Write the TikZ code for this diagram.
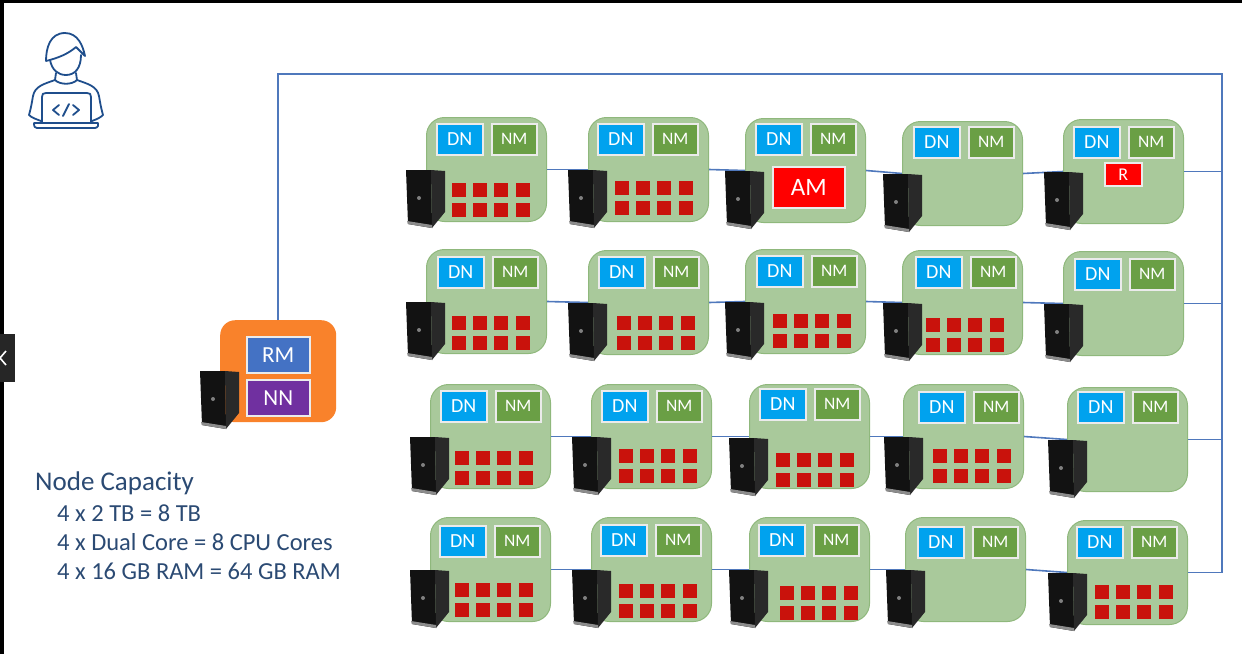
\documentclass[tikz,border=0pt]{standalone}
\usepackage{fontspec}
\setmainfont{Carlito}
\usetikzlibrary{arrows.meta,positioning,calc}
\definecolor{CardGreen}{HTML}{A9C99B}
\definecolor{CardEdge}{HTML}{8FB87C}
\definecolor{LinkBlue}{HTML}{4F78BC}
\definecolor{DnBlue}{HTML}{00A2EE}
\definecolor{NmGreen}{HTML}{6A9F45}
\definecolor{SlotRed}{HTML}{C9120C}
\definecolor{MasterOrange}{HTML}{F9822B}
\definecolor{RmBlue}{HTML}{4472C4}
\definecolor{NnPurple}{HTML}{7030A0}
\definecolor{IconNavy}{HTML}{1F4E8C}
\definecolor{TextNavy}{HTML}{2B4A73}
\tikzset{
card/.style={draw=CardEdge,fill=CardGreen,rounded corners=18pt,line width=1pt,anchor=north west,inner sep=0pt,minimum width=120pt,minimum height=104pt},
tag/.style={draw=white!92!black,line width=1.6pt,anchor=north west,inner sep=0pt,text=white,font=\fontsize{20}{20}\selectfont},
dn/.style={tag,fill=DnBlue,minimum width=46pt,minimum height=31pt},
nm/.style={tag,fill=NmGreen,minimum width=45pt,minimum height=31pt,font=\fontsize{17.5}{18}\selectfont},
slot/.style={fill=SlotRed,anchor=north west,inner sep=0pt,minimum size=13.5pt},
link/.style={LinkBlue,line width=1.6pt},
icon/.style={IconNavy,line width=1.8pt,line cap=round,line join=round},
info/.style={TextNavy,anchor=west,inner sep=0pt,font=\fontsize{24.5}{26}\selectfont},
tower/.pic={
\fill[black!93] (0,0)--(25,0)--(26,58)--(2,54)--cycle;
\fill[black!84] (25,0)--(39,1)--(39,42)--(26,58)--cycle;
\fill[black!45] (1,51)--(26,55)--(26,58)--(2,54)--cycle;
\fill[black!50] (13,28) circle (2);}}
\begin{document}
\begin{tikzpicture}[x=1pt,y=-1pt]
\useasboundingbox (0,0) rectangle (1242,654);
\fill[black] (0,0) rectangle (1242,3);
\fill[black] (0,0) rectangle (4,654);
\fill[black!85] (0,334) rectangle (15,382);
\draw[white,line width=1.6pt] (6,351)--(0,358)--(6,365);
\foreach \name/\x/\y/\tx/\ty/\sx/\sy in {c11/426/117/436/123/26/66,c12/588/117/597/123/27/64,c13/745/118/755/123/0/0,c14/902/121/913/126/0/0,c15/1063/119/1073/126/0/0,
c21/426/249/437/256/26/67,c22/588/250/598/256/29/66,c23/745/249/756/255/28/65,c24/902/250/915/256/24/68,c25/1063/251/1074/258/0/0,
c31/430/384/440/390/25/67,c32/591/384/601/390/28/65,c33/749/384/759/388/27/69,c34/903/384/918/391/30/65,c35/1067/387/1077/391/0/0,
c41/430/517/439/525/25/66,c42/591/517/600/524/28/67,c43/749/517/758/524/31/69,c44/905/517/917/526/0/0,c45/1067/520/1076/526/28/65}{
\node[card] (\name) at (\x,\y) {};
\node[dn] (\name-dn) at (\tx,\ty) {DN};
\node[nm] (\name-nm) at (\tx+55,\ty) {NM};
\ifnum\sy>0
\foreach \i/\d in {1/0,2/21,3/42,4/64}{
\node[slot] (\name-a\i) at (\x+\sx+\d,\y+\sy) {};
\node[slot] (\name-b\i) at (\x+\sx+\d,\y+\sy+20) {};}
\fi}
\node[tag,fill=red,minimum width=72pt,minimum height=41pt,font=\fontsize{25}{25}\selectfont] (am) at (772,166) {AM};
\node[tag,fill=red,minimum width=37pt,minimum height=23pt,font=\fontsize{18}{18}\selectfont] (rr) at (1104,162) {R};
\node[draw=none,fill=MasterOrange,rounded corners=15pt,anchor=north west,minimum width=116pt,minimum height=102pt,inner sep=0pt] (master) at (220,320) {};
\node[tag,fill=RmBlue,minimum width=63pt,minimum height=36pt,font=\fontsize{23}{23}\selectfont] (rm) at (246,336) {RM};
\node[tag,fill=NnPurple,minimum width=63pt,minimum height=36pt,font=\fontsize{23}{23}\selectfont] (nn) at (246,379) {NN};
\coordinate (busTop) at (1222,74);
\foreach \r in {1,...,4}{
\foreach \a/\b in {1/2,2/3,3/4,4/5}{
\draw[link] (c\r\a.east)--(c\r\b.west);}
\draw[link] (c\r5.east)--(c\r5.east -| busTop);}
\draw[link] (master.north) |- (busTop)--(c45.east -| busTop);
\foreach \x/\y in {406/170,568/170,725/171,883/174,1044/172,
406/302,568/303,725/302,883/303,1044/304,
410/437,572/437,729/438,884/437,1048/440,
410/570,572/570,729/570,886/570,1048/573,200/371}{
\pic at (\x,\y) {tower};}
\draw[icon] (46,61) .. controls (46,48) and (50,33) .. (65,33) .. controls (78,33) and (83,46) .. (85,56) -- (76,47) .. controls (68,54) and (58,58) .. (46,61);
\draw[icon] (50,60) .. controls (52,70) and (58,75) .. (66,75) .. controls (75,75) and (81,68) .. (81,55);
\draw[icon] (56,73)--(55,80) .. controls (60,85) and (72,85) .. (77,80)--(76,73);
\draw[icon] (55,80) .. controls (44,84) and (35,86) .. (33,96) .. controls (32,102) and (31,108) .. (29,115) .. controls (32,118) and (36,119) .. (41,121);
\draw[icon] (77,80) .. controls (88,84) and (97,86) .. (99,96) .. controls (100,102) and (101,108) .. (103,115) .. controls (100,118) and (97,119) .. (92,121);
\draw[icon] (42,122)--(42,97) .. controls (42,94) and (43,93) .. (46,93)--(87,93) .. controls (90,93) and (91,94) .. (91,97)--(91,122);
\draw[icon] (34,123)--(98,123)--(98,126) .. controls (97,127) and (97,128) .. (95,128)--(37,128) .. controls (35,128) and (34,127) .. (34,123);
\draw[icon] (59,105)--(53,110)--(59,115) (73,105)--(79,110)--(73,115) (63,116)--(69,104);
\node[info,font=\fontsize{27}{28}\selectfont] (title) at (35,483) {Node Capacity};
\node[info] (disk) at (57,513) {4 x 2 TB = 8 TB};
\node[info] (cpu) at (57,542) {4 x Dual Core = 8 CPU Cores};
\node[info] (ram) at (57,571) {4 x 16 GB RAM = 64 GB RAM};
\end{tikzpicture}
\end{document}
